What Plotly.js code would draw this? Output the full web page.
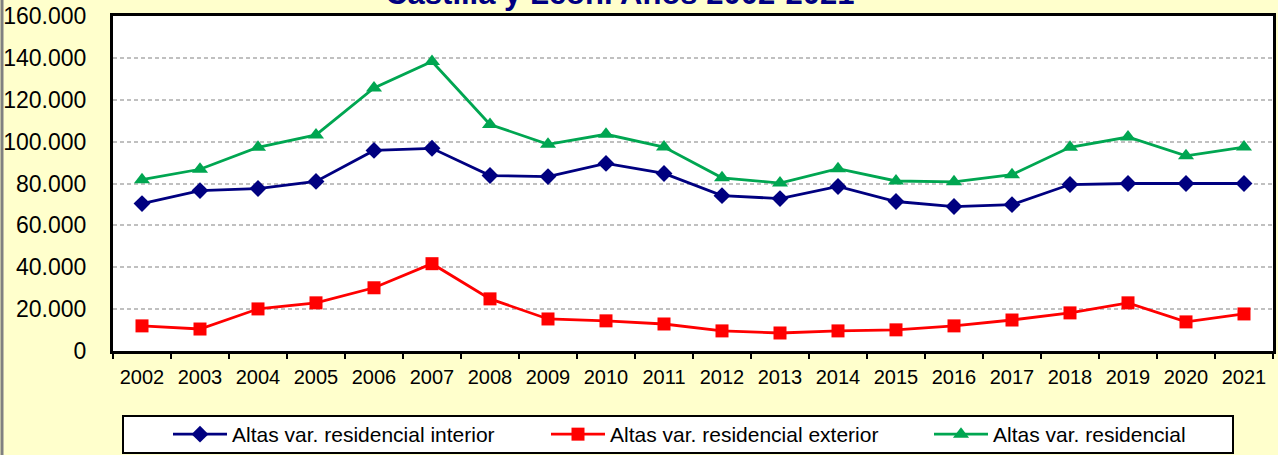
<!DOCTYPE html>
<html>
<head>
<meta charset="utf-8">
<script src="https://cdn.plot.ly/plotly-3.0.1.min.js"></script>
<style>
html,body{margin:0;padding:0;background:#FFFFCC;}
#chart{width:1278px;height:455px;}
</style>
</head>
<body>
<div id="chart"></div>
<script>
const years = ["2002","2003","2004","2005","2006","2007","2008","2009","2010","2011","2012","2013","2014","2015","2016","2017","2018","2019","2020","2021"];
const interior = [70400,76600,77600,81000,95800,96800,83800,83300,89600,84800,74200,72800,78600,71400,69000,69900,79500,80000,80000,80000];
const exterior = [12000,10500,20100,23000,30200,41700,24900,15300,14400,12900,9600,8600,9600,10100,12000,14800,18200,23000,13900,17700];
const total = [81800,86800,97300,103200,125600,138300,108200,98700,103500,97400,82700,80200,87100,81200,80800,84200,97300,102200,93200,97400];
const seriesNames = ["Altas var. residencial interior","Altas var. residencial exterior","Altas var. residencial"];
const titleText = "Castilla y León. Años 2002-2021";

const traces = [
  {x: years, y: interior, name: seriesNames[0], type: 'scatter', mode: 'lines+markers', legend: 'legend',
   line: {color: '#000080', width: 2.8}, marker: {symbol: 'diamond', size: 13, color: '#000080'}},
  {x: years, y: exterior, name: seriesNames[1], type: 'scatter', mode: 'lines+markers', legend: 'legend2',
   line: {color: '#FF0000', width: 2.8}, marker: {symbol: 'square', size: 13, color: '#FF0000'}},
  {x: years, y: total, name: seriesNames[2], type: 'scatter', mode: 'lines+markers', legend: 'legend3',
   line: {color: '#00A651', width: 2.8}, marker: {symbol: 'triangle-up', size: 14, color: '#00A651'}}
];

const L = 113, R = 5, T = 16, B = 104;
const pw = 1278 - L - R, ph = 455 - T - B;
const px = v => (v - L) / pw;
const py = v => (455 - B - v) / ph;

function leg(xpix) {
  return {orientation: 'h', x: px(xpix), xanchor: 'left', y: py(414), yanchor: 'top',
          bgcolor: 'rgba(0,0,0,0)', borderwidth: 0, font: {size: 21, color: '#000000'},
          itemwidth: 54};
}

const layout = {
  width: 1278, height: 455,
  paper_bgcolor: '#FFFFCC', plot_bgcolor: '#FFFFFF',
  margin: {l: L, r: R, t: T, b: B, pad: 0, autoexpand: false},
  separators: ',.',
  font: {family: 'Liberation Sans, Arial, sans-serif', color: '#000000'},
  title: {text: '<b>' + titleText + '</b>', font: {size: 31, color: '#000080', family: 'Liberation Sans, Arial, sans-serif'},
          x: 0.485, xanchor: 'center', y: 1 - 4/455, yanchor: 'bottom', yref: 'container', xref: 'container', automargin: false},
  xaxis: {type: 'category', range: [-0.5, years.length - 0.5], autorange: false,
          showgrid: false, showline: true, linecolor: '#000000', linewidth: 3, mirror: true,
          ticks: 'outside', tickson: 'boundaries', ticklen: 5, tickwidth: 2, tickcolor: '#000000', tickangle: 0,
          ticklabelstandoff: 6,
          automargin: false, tickfont: {size: 20, color: '#000000'}, zeroline: false, fixedrange: true},
  yaxis: {range: [0, 160000], autorange: false, dtick: 20000, tickformat: ',d', showgrid: true, gridcolor: '#C0C0C0', gridwidth: 2,
          griddash: '4px,3px', showline: true, linecolor: '#000000', linewidth: 3, mirror: true, automargin: false,
          ticks: '', tickfont: {size: 23, color: '#000000'}, zeroline: false, ticklabelstandoff: 19, fixedrange: true},
  showlegend: true,
  legend: leg(168),
  legend2: leg(546),
  legend3: leg(929),
  shapes: [
    {type: 'rect', xref: 'paper', yref: 'paper', x0: px(123), x1: px(1233), y0: py(453), y1: py(416),
     line: {color: '#000000', width: 2}, fillcolor: '#FFFFFF', layer: 'below'},
    {type: 'line', xref: 'paper', yref: 'paper', x0: px(2), x1: px(2), y0: py(455), y1: py(0),
     line: {color: '#808080', width: 3}}
  ]
};

Plotly.newPlot('chart', traces, layout, {displayModeBar: false, staticPlot: true});
</script>
</body>
</html>
